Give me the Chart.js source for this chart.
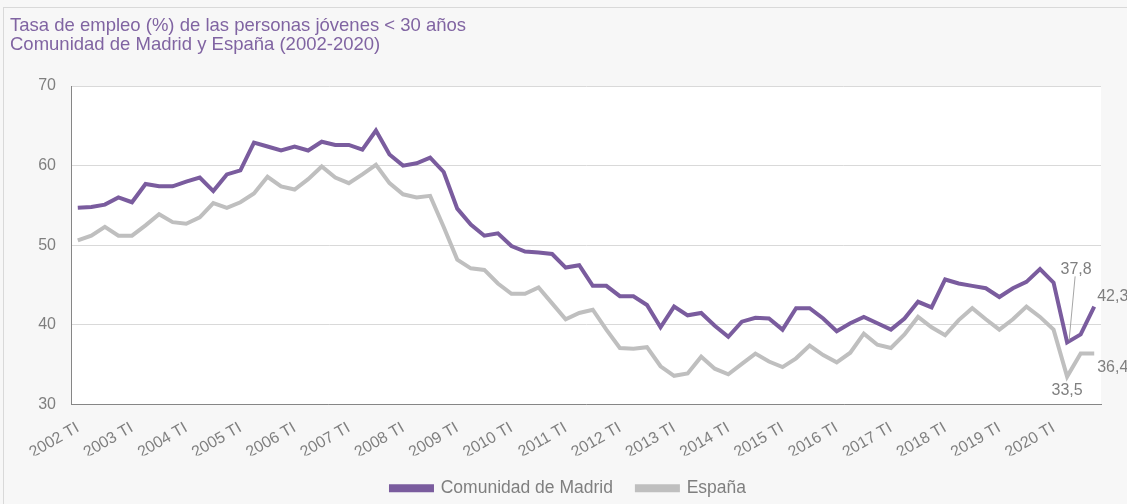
<!DOCTYPE html>
<html lang="es">
<head>
<meta charset="utf-8">
<title>Tasa de empleo jóvenes</title>
<script src="https://cdn.jsdelivr.net/npm/chart.js@4/dist/chart.umd.min.js"></script>
<style>
  html, body { margin: 0; padding: 0; background: #f7f7f7; }
  #wrap { width: 1127px; height: 504px; position: relative; }
</style>
</head>
<body>
<div id="wrap"><canvas id="empleoChart" width="1127" height="504"></canvas></div>
<script>
const years = [2002, 2003, 2004, 2005, 2006, 2007, 2008, 2009, 2010, 2011,
  2012, 2013, 2014, 2015, 2016, 2017, 2018, 2019, 2020];
const quarters = ["TI", "TII", "TIII", "TIV"];
const yTicks = [30, 40, 50, 60, 70];

// Comunidad de Madrid, tasa de empleo < 30 años
const madrid = [
  54.7, 54.8, 55.1, 56.0, 55.4, 57.7, 57.4, 57.4, 58.0, 58.5,
  56.8, 58.9, 59.4, 62.9, 62.4, 61.9, 62.4, 61.9, 63.0, 62.6,
  62.6, 62.0, 64.4, 61.4, 60.0, 60.3, 61.0, 59.2, 54.6, 52.6,
  51.2, 51.5, 49.9, 49.2, 49.1, 48.9, 47.2, 47.5, 44.9, 44.9,
  43.6, 43.6, 42.5, 39.7, 42.3, 41.2, 41.5, 39.9, 38.5, 40.4,
  40.9, 40.8, 39.4, 42.1, 42.1, 40.8, 39.2, 40.2, 41.0, 40.2,
  39.4, 40.8, 42.9, 42.2, 45.7, 45.2, 44.9, 44.6, 43.5, 44.6,
  45.4, 47.0, 45.3, 37.8, 38.8, 42.3
];

// España
const espana = [
  50.6, 51.2, 52.3, 51.2, 51.2, 52.5, 53.9, 52.9, 52.7, 53.5,
  55.3, 54.7, 55.4, 56.5, 58.6, 57.4, 57.0, 58.3, 59.9, 58.5,
  57.8, 58.9, 60.1, 57.8, 56.4, 56.0, 56.2, 52.3, 48.2, 47.1,
  46.9, 45.2, 43.9, 43.9, 44.7, 42.7, 40.7, 41.5, 41.9, 39.4,
  37.1, 37.0, 37.2, 34.8, 33.6, 33.9, 36.0, 34.5, 33.8, 35.1,
  36.4, 35.4, 34.7, 35.8, 37.4, 36.2, 35.3, 36.5, 38.9, 37.5,
  37.1, 38.8, 41.0, 39.7, 38.7, 40.6, 42.1, 40.7, 39.4, 40.7,
  42.3, 41.0, 39.4, 33.5, 36.4, 36.4
];

const categories = [];
years.forEach((y) => quarters.forEach((q) => categories.push(`${y} ${q}`)));

// puntos etiquetados: [dataset, indice]
const labelledPoints = [[0, 73], [0, 75], [1, 73], [1, 75]];

const purple = "#7a5c9e";
const grey = "#bfbfbf";
const textGrey = "#7f7f7f";

function fmt(v) {
  return v.toFixed(1).replace(".", ",");
}

const backgroundPlugin = {
  id: "background",
  beforeDraw(chart) {
    const { ctx, chartArea } = chart;
    ctx.save();
    ctx.fillStyle = "#f7f7f7";
    ctx.fillRect(0, 0, chart.width, chart.height);
    ctx.strokeStyle = "#d9d9d9";
    ctx.lineWidth = 1;
    ctx.strokeRect(3.5, 7.5, chart.width + 10, chart.height + 10);
    ctx.fillStyle = "#ffffff";
    ctx.fillRect(chartArea.left, chartArea.top, chartArea.right - chartArea.left, chartArea.bottom - chartArea.top);
    ctx.restore();
  },
};

const pointLabelsPlugin = {
  id: "pointLabels",
  afterDatasetsDraw(chart) {
    const { ctx } = chart;
    ctx.save();
    ctx.font = "16px 'Liberation Sans', Arial, sans-serif";
    ctx.fillStyle = textGrey;
    ctx.textBaseline = "middle";
    labelledPoints.forEach(([ds, idx]) => {
      const pt = chart.getDatasetMeta(ds).data[idx];
      const text = fmt(chart.data.datasets[ds].data[idx]);
      if (ds === 0 && idx === 73) {
        ctx.strokeStyle = "#a6a6a6";
        ctx.lineWidth = 1;
        ctx.beginPath();
        ctx.moveTo(pt.x + 8, pt.y - 66);
        ctx.lineTo(pt.x + 2, pt.y - 2);
        ctx.stroke();
        ctx.textAlign = "center";
        ctx.fillText(text, pt.x + 9, pt.y - 73);
      } else if (ds === 1 && idx === 73) {
        ctx.textAlign = "center";
        ctx.fillText(text, pt.x, pt.y + 14);
      } else if (ds === 0) {
        ctx.textAlign = "left";
        ctx.fillText(text, pt.x + 3, pt.y - 10);
      } else {
        ctx.textAlign = "left";
        ctx.fillText(text, pt.x + 3, pt.y + 14);
      }
    });
    ctx.restore();
  },
};

new Chart(document.getElementById("empleoChart"), {
  type: "line",
  data: {
    labels: categories,
    datasets: [
      {
        label: "Comunidad de Madrid",
        data: madrid,
        borderColor: purple,
        backgroundColor: purple,
        borderWidth: 4,
        pointRadius: 0,
        tension: 0,
      },
      {
        label: "España",
        data: espana,
        borderColor: grey,
        backgroundColor: grey,
        borderWidth: 4,
        pointRadius: 0,
        tension: 0,
      },
    ],
  },
  options: {
    responsive: false,
    animation: false,
    layout: { padding: { left: 10, right: 0, top: 0, bottom: -3 } },
    scales: {
      x: {
        offset: true,
        grid: { display: false },
        border: { display: true, color: "#868686", width: 1 },
        afterFit(scale) { scale.height = 51; },
        ticks: {
          autoSkip: false,
          maxRotation: 30,
          minRotation: 30,
          color: textGrey,
          padding: 6,
          font: { family: "'Liberation Sans', Arial, sans-serif", size: 16 },
          callback(value, index) {
            return index % 4 === 0 ? categories[index] : null;
          },
        },
      },
      y: {
        min: yTicks[0],
        max: yTicks[yTicks.length - 1],
        afterFit(scale) { scale.width = 61; },
        afterBuildTicks(scale) { scale.ticks = yTicks.map((v) => ({ value: v })); },
        grid: { color: "#d9d9d9", drawTicks: false },
        border: { display: true, color: "#868686", width: 1 },
        ticks: {
          color: textGrey,
          padding: 15,
          font: { family: "'Liberation Sans', Arial, sans-serif", size: 16 },
        },
      },
      // margen derecho vacío, deja sitio a las etiquetas finales
      yRight: {
        position: "right",
        min: yTicks[0],
        max: yTicks[yTicks.length - 1],
        afterFit(scale) { scale.width = 26; },
        grid: { display: false },
        border: { display: false },
        ticks: { display: false },
      },
    },
    plugins: {
      title: {
        display: true,
        text: ["Tasa de empleo (%) de las personas jóvenes < 30 años", "Comunidad de Madrid y España (2002-2020)"],
        align: "start",
        color: "#8064a2",
        font: { family: "'Liberation Sans', Arial, sans-serif", size: 18.5, weight: "normal", lineHeight: 1.0 },
        padding: { top: 17, bottom: 32 },
      },
      legend: {
        position: "bottom",
        labels: {
          boxWidth: 41,
          boxHeight: 4,
          padding: 24,
          color: textGrey,
          font: { family: "'Liberation Sans', Arial, sans-serif", size: 17.5 },
        },
      },
      tooltip: { enabled: false },
    },
  },
  plugins: [backgroundPlugin, pointLabelsPlugin],
});
</script>
</body>
</html>
